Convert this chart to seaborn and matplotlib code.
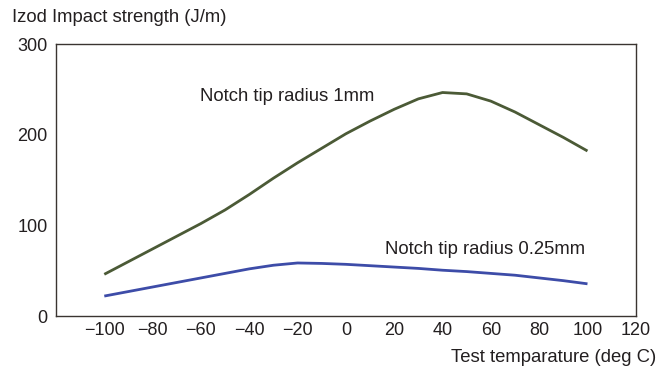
import matplotlib
matplotlib.use("Agg")
import matplotlib.pyplot as plt
import seaborn as sns
import pandas as pd

temps = [-100, -90, -80, -70, -60, -50, -40, -30, -20, -10, 0,
         10, 20, 30, 40, 50, 60, 70, 80, 90, 100]
r1mm = [46, 60, 74, 88, 102, 117, 134, 152, 169, 185, 201,
        215, 228, 239.5, 246.5, 245, 237, 225, 211, 197, 182]
r025mm = [22, 27, 32, 37, 42, 47, 52, 56, 58.5, 58, 57,
          55.5, 54, 52.5, 50.5, 49, 47, 45, 42, 39, 35.5]
xticks = [-100, -80, -60, -40, -20, 0, 20, 40, 60, 80, 100, 120]
yticks = [0, 100, 200, 300]

sns.set_theme(style="white")
plt.rcParams['font.family'] = ['Liberation Sans', 'DejaVu Sans']

df = pd.DataFrame({
    "temp": temps * 2,
    "strength": r1mm + r025mm,
    "series": ["Notch tip radius 1mm"] * len(temps) + ["Notch tip radius 0.25mm"] * len(temps),
})

fig = plt.figure(figsize=(6.68, 3.72), dpi=100)
ax = fig.add_axes([0.0838, 0.1505, 0.868, 0.7312])
sns.lineplot(data=df, x="temp", y="strength", hue="series",
             palette={"Notch tip radius 1mm": "#4b5a36", "Notch tip radius 0.25mm": "#3d4ca8"},
             linewidth=2.0, legend=False, ax=ax)
for ln in ax.get_lines():
    ln.set_solid_joinstyle("round")
    ln.set_solid_capstyle("butt")

ax.set_xlim(-120, 120)
ax.set_ylim(0, 300)
ax.set_xticks(xticks)
ax.set_xticklabels(["\u2212" + str(-t) if t < 0 else str(t) for t in xticks])
ax.set_yticks(yticks)
ax.set_xlabel("")
ax.set_ylabel("")
spine_c = "#3a3431"
for s in ax.spines.values():
    s.set_color(spine_c)
    s.set_linewidth(1.0)
ax.tick_params(direction="in", length=4.5, width=1.0, color=spine_c,
               labelsize=13, labelcolor="#231f20")
ax.tick_params(axis="x", pad=4)
ax.tick_params(axis="y", pad=6)

ax.text(-60.5, 242, "Notch tip radius 1mm", fontsize=13.3, color="#231f20", va="center", ha="left")
ax.text(16, 73, "Notch tip radius 0.25mm", fontsize=13.3, color="#231f20", va="center", ha="left")

fig.text(12 / 668, 1 - 18 / 372, "Izod Impact strength (J/m)", fontsize=13.3,
         color="#231f20", ha="left", va="center")
fig.text(656 / 668, 1 - 358 / 372, "Test temparature (deg C)", fontsize=13.3,
         color="#231f20", ha="right", va="center")

fig.savefig("out.png", dpi=100)
